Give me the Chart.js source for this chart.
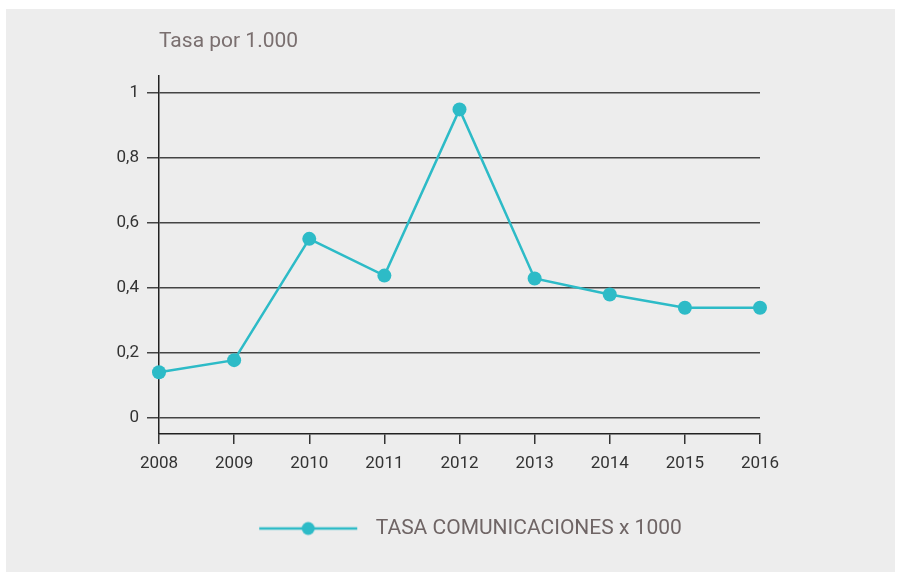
<!DOCTYPE html>
<html>
<head>
<meta charset="utf-8">
<script src="https://cdn.jsdelivr.net/npm/chart.js@4"></script>
<style>
  body { margin: 0; background: #fff; }
  #wrap { position: absolute; left: 6px; top: 9px; width: 889px; height: 563px; background: #ededed; }
</style>
</head>
<body>
<div id="wrap"><canvas id="chart"></canvas></div>
<script>
// data
const years = ["2008", "2009", "2010", "2011", "2012", "2013", "2014", "2015", "2016"];
const tasa = [0.14, 0.177, 0.55, 0.437, 0.948, 0.428, 0.379, 0.338, 0.338];
const yTicks = [0, 0.2, 0.4, 0.6, 0.8, 1];
const seriesName = "TASA COMUNICACIONES x 1000";
const titleText = "Tasa por 1.000";

const teal = "#2dbbc7";
const font = "Roboto";

// legend symbol: line with a dot in the middle (left margin nudges the legend right)
const legendIcon = document.createElement("canvas");
legendIcon.width = 128;
legendIcon.height = 20;
const ic = legendIcon.getContext("2d");
ic.strokeStyle = teal;
ic.lineWidth = 2.5;
ic.beginPath();
ic.moveTo(22, 10);
ic.lineTo(120, 10);
ic.stroke();
ic.fillStyle = teal;
ic.beginPath();
ic.arc(71, 10, 6.5, 0, Math.PI * 2);
ic.fill();

const ctx = document.getElementById("chart").getContext("2d");
new Chart(ctx, {
  type: "line",
  data: {
    labels: years,
    datasets: [{
      label: seriesName,
      data: tasa,
      borderColor: teal,
      backgroundColor: teal,
      borderWidth: 2.5,
      pointRadius: 7,
      pointHoverRadius: 7,
      pointBorderWidth: 0,
      tension: 0
    }]
  },
  options: {
    responsive: true,
    maintainAspectRatio: false,
    animation: false,
    layout: { padding: { left: 0, right: 135, top: 0, bottom: 23 } },
    plugins: {
      tooltip: { enabled: false },
      title: {
        display: true,
        text: titleText,
        align: "start",
        fullSize: false,
        color: "#7a6f6f",
        font: { family: font, size: 21, weight: "normal" },
        padding: { top: 20, bottom: 22 }
      },
      legend: {
        position: "bottom",
        fullSize: false,
        labels: {
          color: "#6f6565",
          font: { family: font, size: 21 },
          usePointStyle: true,
          pointStyleWidth: 128,
          generateLabels: (chart) => [{
            text: seriesName,
            pointStyle: legendIcon,
            fontColor: "#6f6565",
            lineWidth: 0,
            datasetIndex: 0
          }]
        }
      }
    },
    scales: {
      x: {
        offset: false,
        grid: { drawOnChartArea: false, tickLength: 10, color: "#333", lineWidth: 1.5 },
        border: { color: "#222", width: 1.5 },
        ticks: { color: "#333", font: { family: font, size: 17 }, padding: 10, maxRotation: 0 },
        afterFit: (scale) => { scale.height = 74; }
      },
      y: {
        min: -0.05,
        max: 1.05,
        afterBuildTicks: (scale) => { scale.ticks = yTicks.map(v => ({ value: v })); },
        afterFit: (scale) => { scale.width = 153; },
        grid: { color: "#444", lineWidth: 1.5, tickLength: 12 },
        border: { color: "#222", width: 1.5 },
        ticks: {
          color: "#333",
          font: { family: font, size: 17 },
          padding: 8,
          callback: (v) => String(Math.round(v * 10) / 10).replace(".", ",")
        }
      }
    }
  }
});
</script>
</body>
</html>
